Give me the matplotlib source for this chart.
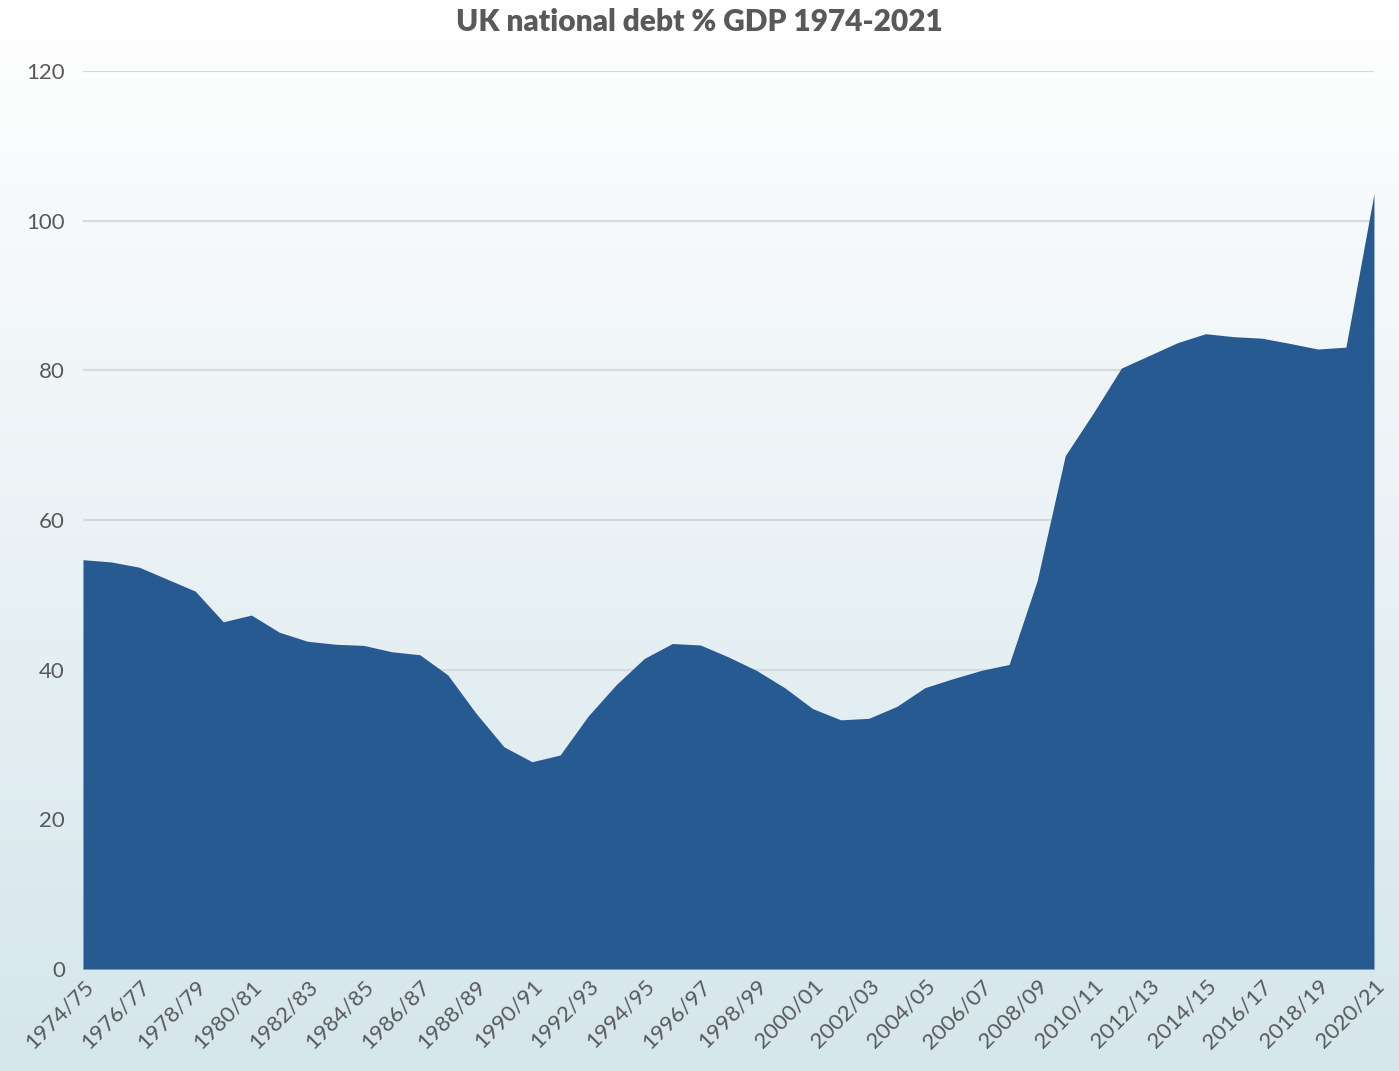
import numpy as np
import matplotlib
matplotlib.use("Agg")
import matplotlib.pyplot as plt
from matplotlib.colors import LinearSegmentedColormap

# Fiscal years 1974/75 .. 2020/21
years = [f"{y}/{(y + 1) % 100:02d}" for y in range(1974, 2021)]

# Public sector net debt, % of GDP
debt_pct_gdp = [
    54.7, 54.4, 53.7, 52.1, 50.5, 46.4, 47.3, 45.0, 43.8, 43.4,
    43.25, 42.4, 42.0, 39.3, 34.2, 29.7, 27.7, 28.6, 33.8, 38.0,
    41.5, 43.5, 43.3, 41.7, 39.9, 37.6, 34.8, 33.3, 33.5, 35.1,
    37.6, 38.8, 39.9, 40.7, 51.9, 68.6, 74.3, 80.3, 82.0, 83.7,
    84.9, 84.5, 84.3, 83.6, 82.85, 83.1, 103.6,
]

y_ticks = [0, 20, 40, 60, 80, 100, 120]

text_color = "#595959"
area_color = "#275a91"
grid_color = "#d9d9d9"

fig = plt.figure(figsize=(13.99, 10.71), dpi=100)

# Vertical background gradient: white at the top fading to pale blue
bg = fig.add_axes([0, 0, 1, 1], zorder=-10)
grad = np.linspace(0, 1, 256).reshape(-1, 1)
cmap = LinearSegmentedColormap.from_list(
    "bg", ["#d5e6ec", "#eaf2f5", "#ffffff"], N=256)
bg.imshow(grad, aspect="auto", cmap=cmap, origin="lower",
          extent=[0, 1, 0, 1])
bg.set_axis_off()

ax = fig.add_axes([0.0593, 0.0952, 0.9228, 0.8385])
ax.patch.set_alpha(0)

x = np.arange(len(years))
ax.fill_between(x, debt_pct_gdp, 0, color=area_color, linewidth=0, zorder=3)

ax.set_xlim(0, len(years) - 1)
ax.set_ylim(0, 120)
ax.set_yticks(y_ticks)
ax.set_yticklabels([str(t) for t in y_ticks])
ax.grid(axis="y", color=grid_color, linewidth=1.6, zorder=0)
ax.axhline(0, color="#c8cdd0", linewidth=1.2, zorder=2)

ax.set_xticks(x[::2])
ax.set_xticklabels(years[::2], rotation=45, ha="right", va="top",
                   rotation_mode="anchor")

for sp in ax.spines.values():
    sp.set_visible(False)
ax.tick_params(axis="both", length=0, labelsize=16)
ax.tick_params(axis="y", pad=13)
ax.tick_params(axis="x", pad=5)
for lbl in ax.get_xticklabels() + ax.get_yticklabels():
    lbl.set_fontfamily("Lato")
    lbl.set_fontweight("normal")
    lbl.set_color(text_color)

fig.text(0.5, 0.979, "UK national debt % GDP 1974-2021", ha="center",
         va="center", fontsize=21.5, fontweight="heavy", color=text_color,
         family="Lato")

fig.savefig("out.png", dpi=100)
